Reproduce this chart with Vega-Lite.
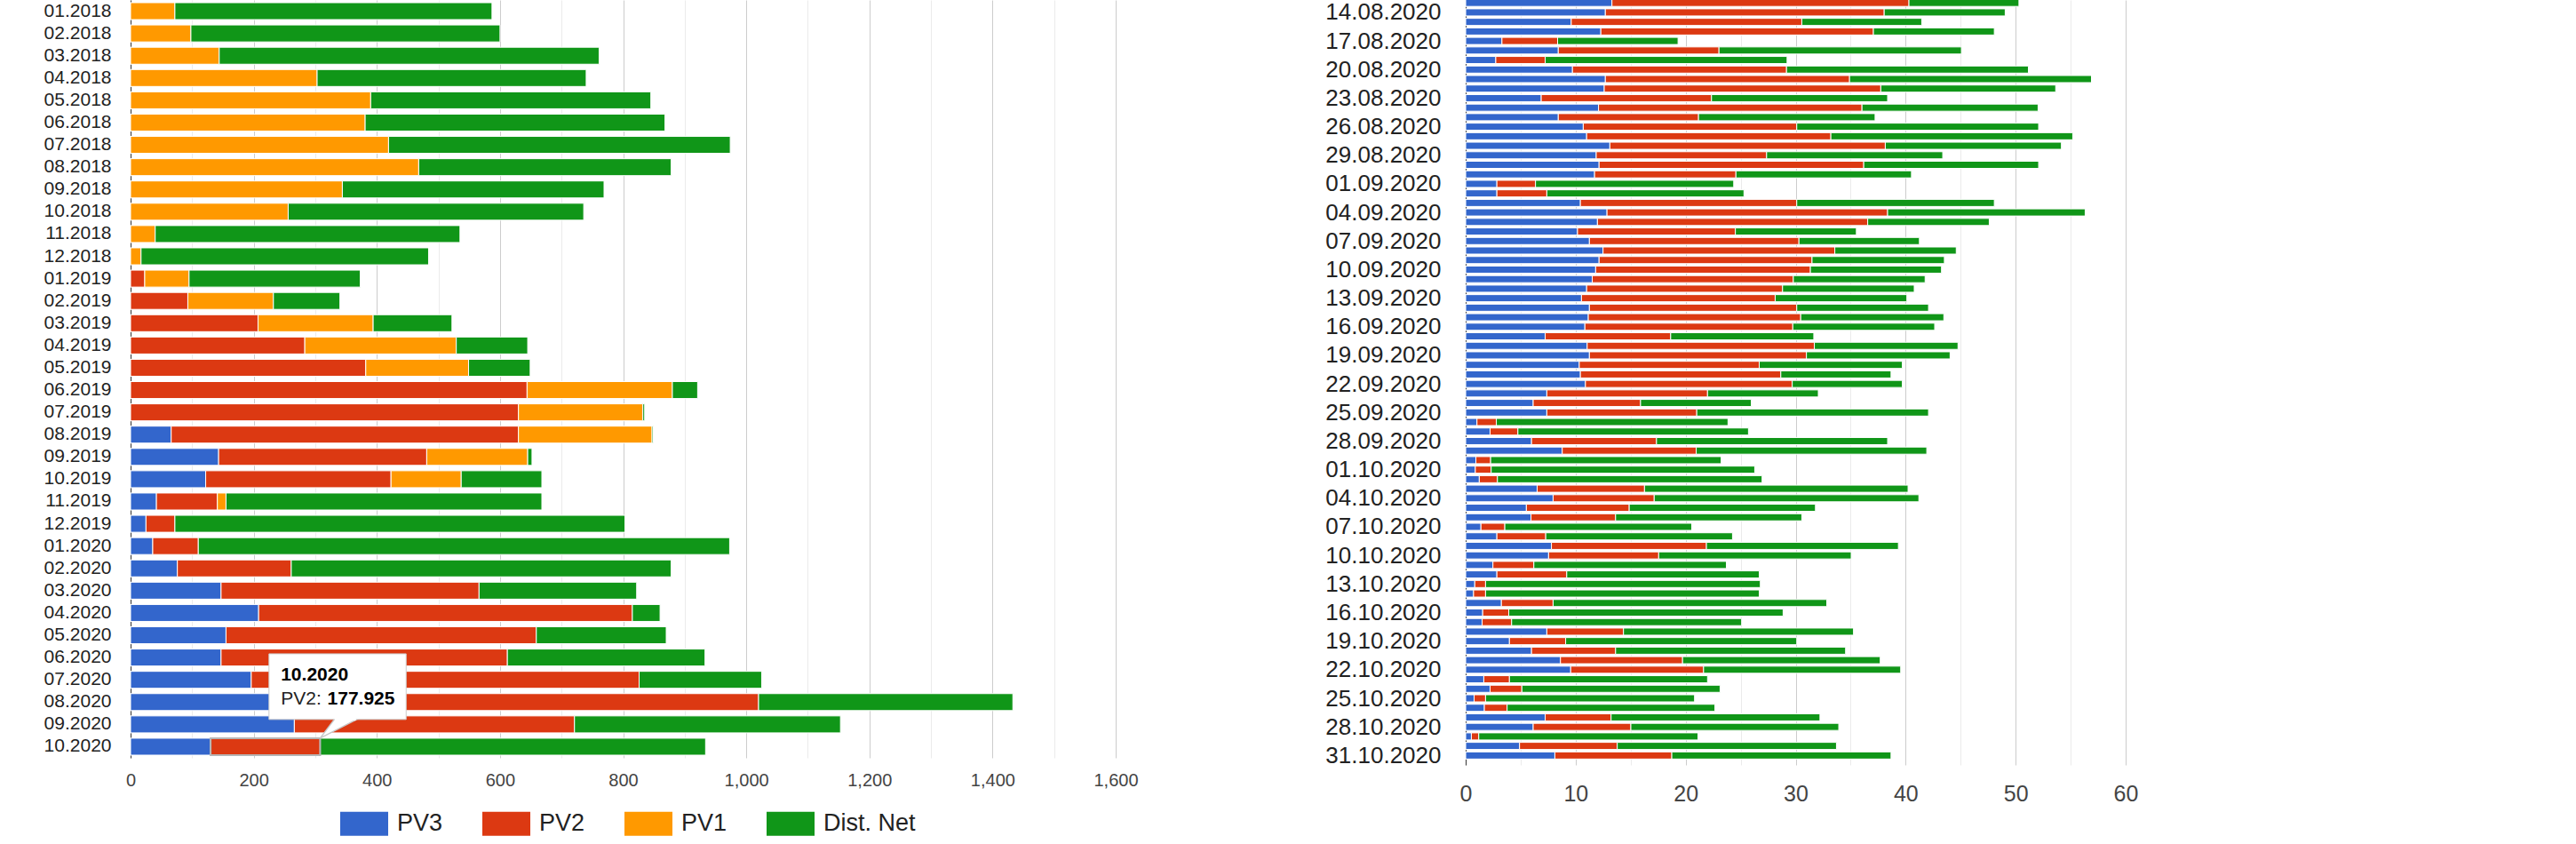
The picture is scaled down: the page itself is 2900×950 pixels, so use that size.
{
  "$schema": "https://vega.github.io/schema/vega-lite/v6.json",
  "background": "white",
  "padding": {"left": 49, "top": 0, "right": 0, "bottom": 0},
  "bounds": "flush",
  "spacing": 394,
  "config": {
    "font": "Liberation Sans",
    "view": {"stroke": null},
    "axis": {"ticks": false, "domain": false}
  },
  "resolve": {"scale": {"color": "independent"}, "legend": {"color": "independent"}},
  "hconcat": [
    {
      "width": 1109,
      "height": 853,
      "layer": [
        {
          "data": {
            "values": [
              {"m": "01.2018", "s": "PV1", "v": 72}, {"m": "01.2018", "s": "Dist. Net", "v": 515},
              {"m": "02.2018", "s": "PV1", "v": 98}, {"m": "02.2018", "s": "Dist. Net", "v": 502},
              {"m": "03.2018", "s": "PV1", "v": 144}, {"m": "03.2018", "s": "Dist. Net", "v": 617},
              {"m": "04.2018", "s": "PV1", "v": 303}, {"m": "04.2018", "s": "Dist. Net", "v": 437},
              {"m": "05.2018", "s": "PV1", "v": 390}, {"m": "05.2018", "s": "Dist. Net", "v": 455},
              {"m": "06.2018", "s": "PV1", "v": 381}, {"m": "06.2018", "s": "Dist. Net", "v": 487},
              {"m": "07.2018", "s": "PV1", "v": 419}, {"m": "07.2018", "s": "Dist. Net", "v": 555},
              {"m": "08.2018", "s": "PV1", "v": 468}, {"m": "08.2018", "s": "Dist. Net", "v": 410},
              {"m": "09.2018", "s": "PV1", "v": 344}, {"m": "09.2018", "s": "Dist. Net", "v": 425},
              {"m": "10.2018", "s": "PV1", "v": 256}, {"m": "10.2018", "s": "Dist. Net", "v": 480},
              {"m": "11.2018", "s": "PV1", "v": 40}, {"m": "11.2018", "s": "Dist. Net", "v": 495},
              {"m": "12.2018", "s": "PV1", "v": 17}, {"m": "12.2018", "s": "Dist. Net", "v": 467},
              {"m": "01.2019", "s": "PV2", "v": 23}, {"m": "01.2019", "s": "PV1", "v": 72}, {"m": "01.2019", "s": "Dist. Net", "v": 278},
              {"m": "02.2019", "s": "PV2", "v": 93}, {"m": "02.2019", "s": "PV1", "v": 139}, {"m": "02.2019", "s": "Dist. Net", "v": 108},
              {"m": "03.2019", "s": "PV2", "v": 207}, {"m": "03.2019", "s": "PV1", "v": 187}, {"m": "03.2019", "s": "Dist. Net", "v": 128},
              {"m": "04.2019", "s": "PV2", "v": 283}, {"m": "04.2019", "s": "PV1", "v": 246}, {"m": "04.2019", "s": "Dist. Net", "v": 116},
              {"m": "05.2019", "s": "PV2", "v": 382}, {"m": "05.2019", "s": "PV1", "v": 167}, {"m": "05.2019", "s": "Dist. Net", "v": 100},
              {"m": "06.2019", "s": "PV2", "v": 644}, {"m": "06.2019", "s": "PV1", "v": 236}, {"m": "06.2019", "s": "Dist. Net", "v": 41},
              {"m": "07.2019", "s": "PV2", "v": 630}, {"m": "07.2019", "s": "PV1", "v": 202}, {"m": "07.2019", "s": "Dist. Net", "v": 3},
              {"m": "08.2019", "s": "PV3", "v": 66}, {"m": "08.2019", "s": "PV2", "v": 564}, {"m": "08.2019", "s": "PV1", "v": 217}, {"m": "08.2019", "s": "Dist. Net", "v": 2},
              {"m": "09.2019", "s": "PV3", "v": 143}, {"m": "09.2019", "s": "PV2", "v": 338}, {"m": "09.2019", "s": "PV1", "v": 164}, {"m": "09.2019", "s": "Dist. Net", "v": 7},
              {"m": "10.2019", "s": "PV3", "v": 122}, {"m": "10.2019", "s": "PV2", "v": 301}, {"m": "10.2019", "s": "PV1", "v": 114}, {"m": "10.2019", "s": "Dist. Net", "v": 131},
              {"m": "11.2019", "s": "PV3", "v": 42}, {"m": "11.2019", "s": "PV2", "v": 99}, {"m": "11.2019", "s": "PV1", "v": 14}, {"m": "11.2019", "s": "Dist. Net", "v": 513},
              {"m": "12.2019", "s": "PV3", "v": 25}, {"m": "12.2019", "s": "PV2", "v": 47}, {"m": "12.2019", "s": "Dist. Net", "v": 731},
              {"m": "01.2020", "s": "PV3", "v": 36}, {"m": "01.2020", "s": "PV2", "v": 74}, {"m": "01.2020", "s": "Dist. Net", "v": 863},
              {"m": "02.2020", "s": "PV3", "v": 76}, {"m": "02.2020", "s": "PV2", "v": 185}, {"m": "02.2020", "s": "Dist. Net", "v": 617},
              {"m": "03.2020", "s": "PV3", "v": 147}, {"m": "03.2020", "s": "PV2", "v": 419}, {"m": "03.2020", "s": "Dist. Net", "v": 256},
              {"m": "04.2020", "s": "PV3", "v": 208}, {"m": "04.2020", "s": "PV2", "v": 607}, {"m": "04.2020", "s": "Dist. Net", "v": 45},
              {"m": "05.2020", "s": "PV3", "v": 155}, {"m": "05.2020", "s": "PV2", "v": 504}, {"m": "05.2020", "s": "Dist. Net", "v": 211},
              {"m": "06.2020", "s": "PV3", "v": 147}, {"m": "06.2020", "s": "PV2", "v": 465}, {"m": "06.2020", "s": "Dist. Net", "v": 321},
              {"m": "07.2020", "s": "PV3", "v": 196}, {"m": "07.2020", "s": "PV2", "v": 630}, {"m": "07.2020", "s": "Dist. Net", "v": 199},
              {"m": "08.2020", "s": "PV3", "v": 255}, {"m": "08.2020", "s": "PV2", "v": 765}, {"m": "08.2020", "s": "Dist. Net", "v": 413},
              {"m": "09.2020", "s": "PV3", "v": 266}, {"m": "09.2020", "s": "PV2", "v": 455}, {"m": "09.2020", "s": "Dist. Net", "v": 432},
              {"m": "10.2020", "s": "PV3", "v": 130}, {"m": "10.2020", "s": "PV2", "v": 177.925}, {"m": "10.2020", "s": "Dist. Net", "v": 626}
            ]
          },
          "mark": {"type": "bar", "stroke": "white", "strokeWidth": 1},
          "encoding": {
            "y": {
              "field": "m",
              "type": "nominal",
              "title": null,
              "scale": {
                "domain": ["01.2018", "02.2018", "03.2018", "04.2018", "05.2018", "06.2018", "07.2018", "08.2018", "09.2018", "10.2018", "11.2018", "12.2018",
                           "01.2019", "02.2019", "03.2019", "04.2019", "05.2019", "06.2019", "07.2019", "08.2019", "09.2019", "10.2019", "11.2019", "12.2019",
                           "01.2020", "02.2020", "03.2020", "04.2020", "05.2020", "06.2020", "07.2020", "08.2020", "09.2020", "10.2020"],
                "paddingInner": 0.24,
                "paddingOuter": 0.12
              },
              "axis": {"labelFontSize": 21, "labelColor": "#222222", "labelPadding": 22, "domain": true, "domainColor": "#333333", "grid": false}
            },
            "x": {
              "field": "v",
              "type": "quantitative",
              "stack": "zero",
              "title": null,
              "scale": {"domain": [0, 1600], "nice": false},
              "axis": {
                "values": [0, 100, 200, 300, 400, 500, 600, 700, 800, 900, 1000, 1100, 1200, 1300, 1400, 1500, 1600],
                "format": ",.0f",
                "labelExpr": "datum.value % 200 === 0 ? format(datum.value, ',.0f') : ''",
                "labelFontSize": 20,
                "labelColor": "#444444",
                "labelPadding": 15,
                "labelFlush": false,
                "gridColor": {"condition": {"test": "datum.value % 200 === 0", "value": "#cccccc"}, "value": "#ebebeb"}
              }
            },
            "color": {
              "field": "s",
              "type": "nominal",
              "scale": {"domain": ["PV3", "PV2", "PV1", "Dist. Net"], "range": ["#3366cc", "#dc3912", "#ff9900", "#109618"]},
              "legend": {
                "orient": "none",
                "legendX": 236,
                "legendY": 900,
                "direction": "horizontal",
                "title": null,
                "symbolType": "M-1,-0.5H1V0.5H-1Z",
                "symbolSize": 2916,
                "symbolStrokeWidth": 0,
                "symbolOpacity": 1,
                "labelFontSize": 27,
                "labelColor": "#222222",
                "labelOffset": 10,
                "columnPadding": 44
              }
            },
            "order": {"field": "s", "sort": "descending"}
          }
        },
        {
          "data": {"values": [{"m": "10.2020", "a": 130, "b": 307.925}]},
          "mark": {"type": "rect", "fillOpacity": 0, "stroke": "#b5b5b5", "strokeWidth": 2},
          "encoding": {
            "y": {"field": "m", "type": "nominal", "title": null},
            "x": {"field": "a", "type": "quantitative", "title": null},
            "x2": {"field": "b"}
          }
        },
        {
          "data": {
            "values": [
              {"m": "09.2020", "x": 335.2, "k": 1},
              {"m": "10.2020", "x": 307.9, "k": 2},
              {"m": "09.2020", "x": 378.3, "k": 3}
            ]
          },
          "mark": {"type": "line", "interpolate": "linear-closed", "fill": "white", "stroke": "white", "strokeWidth": 0},
          "encoding": {
            "y": {"field": "m", "type": "nominal", "bandPosition": 0, "title": null},
            "x": {"field": "x", "type": "quantitative", "title": null},
            "order": {"field": "k"}
          }
        },
        {
          "data": {
            "values": [
              {"m": "09.2020", "x": 335.2, "k": 1},
              {"m": "10.2020", "x": 307.9, "k": 2},
              {"m": "09.2020", "x": 378.3, "k": 3}
            ]
          },
          "mark": {"type": "line", "color": "#c8c8c8", "strokeWidth": 1.5},
          "encoding": {
            "y": {"field": "m", "type": "nominal", "bandPosition": 0, "title": null},
            "x": {"field": "x", "type": "quantitative", "title": null},
            "order": {"field": "k"}
          }
        },
        {
          "data": {"values": [{"m1": "06.2020", "m2": "09.2020", "a": 224.8, "b": 447.6}]},
          "mark": {"type": "rect", "fill": "white", "stroke": "#cccccc", "strokeWidth": 1},
          "encoding": {
            "y": {"field": "m1", "type": "nominal", "bandPosition": 0.28, "title": null},
            "y2": {"field": "m2", "bandPosition": 0.21},
            "x": {"field": "a", "type": "quantitative", "title": null},
            "x2": {"field": "b"}
          }
        },
        {
          "data": {"values": [{"m": "09.2020", "a": 331.5, "b": 366}]},
          "mark": {"type": "rule", "color": "white", "strokeWidth": 2.5},
          "encoding": {
            "y": {"field": "m", "type": "nominal", "bandPosition": 0.21, "title": null},
            "x": {"field": "a", "type": "quantitative", "title": null},
            "x2": {"field": "b"}
          }
        },
        {
          "data": {"values": [{"m": "07.2020", "x": 244.1, "t": "10.2020"}]},
          "mark": {"type": "text", "align": "left", "baseline": "middle", "fontSize": 21, "fontWeight": "bold", "color": "#000000"},
          "encoding": {
            "y": {"field": "m", "type": "nominal", "bandPosition": 0.23, "title": null},
            "x": {"field": "x", "type": "quantitative", "title": null},
            "text": {"field": "t"}
          }
        },
        {
          "data": {"values": [{"m": "08.2020", "x": 244.1, "t": "PV2:"}]},
          "mark": {"type": "text", "align": "left", "baseline": "middle", "fontSize": 21, "color": "#222222"},
          "encoding": {
            "y": {"field": "m", "type": "nominal", "bandPosition": 0.35, "title": null},
            "x": {"field": "x", "type": "quantitative", "title": null},
            "text": {"field": "t"}
          }
        },
        {
          "data": {"values": [{"m": "08.2020", "x": 319.6, "t": "177.925"}]},
          "mark": {"type": "text", "align": "left", "baseline": "middle", "fontSize": 21, "fontWeight": "bold", "color": "#000000"},
          "encoding": {
            "y": {"field": "m", "type": "nominal", "bandPosition": 0.35, "title": null},
            "x": {"field": "x", "type": "quantitative", "title": null},
            "text": {"field": "t"}
          }
        }
      ]
    },
    {
      "width": 743,
      "height": 861,
      "data": {
        "values": [
          {"d": "13.08.2020", "PV3": 13.3, "PV2": 27.0, "Net": 10.0},
          {"d": "14.08.2020", "PV3": 12.7, "PV2": 25.35, "Net": 11.0},
          {"d": "15.08.2020", "PV3": 9.6, "PV2": 20.96, "Net": 10.9},
          {"d": "16.08.2020", "PV3": 12.29, "PV2": 24.78, "Net": 10.99},
          {"d": "17.08.2020", "PV3": 3.3, "PV2": 5.06, "Net": 10.95},
          {"d": "18.08.2020", "PV3": 8.42, "PV2": 14.61, "Net": 22.04},
          {"d": "19.08.2020", "PV3": 2.74, "PV2": 4.49, "Net": 21.99},
          {"d": "20.08.2020", "PV3": 9.71, "PV2": 19.46, "Net": 21.99},
          {"d": "21.08.2020", "PV3": 12.7, "PV2": 22.2, "Net": 21.99},
          {"d": "22.08.2020", "PV3": 12.6, "PV2": 25.14, "Net": 15.9},
          {"d": "23.08.2020", "PV3": 6.87, "PV2": 15.48, "Net": 16.01},
          {"d": "24.08.2020", "PV3": 12.08, "PV2": 23.95, "Net": 16.01},
          {"d": "25.08.2020", "PV3": 8.42, "PV2": 12.75, "Net": 16.05},
          {"d": "26.08.2020", "PV3": 10.69, "PV2": 19.41, "Net": 21.99},
          {"d": "27.08.2020", "PV3": 11.0, "PV2": 22.2, "Net": 21.99},
          {"d": "28.08.2020", "PV3": 13.11, "PV2": 25.04, "Net": 16.01},
          {"d": "29.08.2020", "PV3": 11.87, "PV2": 15.49, "Net": 16.01},
          {"d": "30.08.2020", "PV3": 12.13, "PV2": 24.06, "Net": 15.9},
          {"d": "31.08.2020", "PV3": 11.72, "PV2": 12.85, "Net": 15.96},
          {"d": "01.09.2020", "PV3": 2.84, "PV2": 3.51, "Net": 18.02},
          {"d": "02.09.2020", "PV3": 2.84, "PV2": 4.54, "Net": 17.92},
          {"d": "03.09.2020", "PV3": 10.43, "PV2": 19.67, "Net": 17.96},
          {"d": "04.09.2020", "PV3": 12.85, "PV2": 25.51, "Net": 17.96},
          {"d": "05.09.2020", "PV3": 11.98, "PV2": 24.57, "Net": 11.05},
          {"d": "06.09.2020", "PV3": 10.17, "PV2": 14.35, "Net": 11.0},
          {"d": "07.09.2020", "PV3": 11.25, "PV2": 19.05, "Net": 10.95},
          {"d": "08.09.2020", "PV3": 12.49, "PV2": 21.07, "Net": 11.04},
          {"d": "09.09.2020", "PV3": 12.13, "PV2": 19.36, "Net": 12.03},
          {"d": "10.09.2020", "PV3": 11.82, "PV2": 19.52, "Net": 11.92},
          {"d": "11.09.2020", "PV3": 11.51, "PV2": 18.28, "Net": 11.98},
          {"d": "12.09.2020", "PV3": 11.0, "PV2": 17.81, "Net": 11.97},
          {"d": "13.09.2020", "PV3": 10.53, "PV2": 17.61, "Net": 11.97},
          {"d": "14.09.2020", "PV3": 11.25, "PV2": 18.85, "Net": 11.98},
          {"d": "15.09.2020", "PV3": 11.15, "PV2": 19.31, "Net": 13.01},
          {"d": "16.09.2020", "PV3": 10.84, "PV2": 18.9, "Net": 12.9},
          {"d": "17.09.2020", "PV3": 7.23, "PV2": 11.41, "Net": 13.01},
          {"d": "18.09.2020", "PV3": 11.05, "PV2": 20.65, "Net": 13.06},
          {"d": "19.09.2020", "PV3": 11.25, "PV2": 19.73, "Net": 13.06},
          {"d": "20.09.2020", "PV3": 10.33, "PV2": 16.36, "Net": 13.01},
          {"d": "21.09.2020", "PV3": 10.43, "PV2": 18.22, "Net": 10.02},
          {"d": "22.09.2020", "PV3": 10.89, "PV2": 18.8, "Net": 10.01},
          {"d": "23.09.2020", "PV3": 7.38, "PV2": 14.61, "Net": 10.07},
          {"d": "24.09.2020", "PV3": 6.14, "PV2": 9.76, "Net": 10.07},
          {"d": "25.09.2020", "PV3": 7.38, "PV2": 13.63, "Net": 21.07},
          {"d": "26.09.2020", "PV3": 1.03, "PV2": 1.76, "Net": 21.06},
          {"d": "27.09.2020", "PV3": 2.22, "PV2": 2.53, "Net": 20.96},
          {"d": "28.09.2020", "PV3": 5.99, "PV2": 11.36, "Net": 21.01},
          {"d": "29.09.2020", "PV3": 8.78, "PV2": 12.18, "Net": 20.96},
          {"d": "30.09.2020", "PV3": 0.93, "PV2": 1.34, "Net": 20.96},
          {"d": "01.10.2020", "PV3": 0.88, "PV2": 1.44, "Net": 23.96},
          {"d": "02.10.2020", "PV3": 1.24, "PV2": 1.65, "Net": 24.06},
          {"d": "03.10.2020", "PV3": 6.5, "PV2": 9.76, "Net": 23.96},
          {"d": "04.10.2020", "PV3": 7.95, "PV2": 9.19, "Net": 24.06},
          {"d": "05.10.2020", "PV3": 5.52, "PV2": 9.35, "Net": 16.93},
          {"d": "06.10.2020", "PV3": 5.94, "PV2": 7.69, "Net": 16.93},
          {"d": "07.10.2020", "PV3": 1.39, "PV2": 2.17, "Net": 16.99},
          {"d": "08.10.2020", "PV3": 2.84, "PV2": 4.44, "Net": 16.98},
          {"d": "09.10.2020", "PV3": 7.8, "PV2": 14.09, "Net": 17.45},
          {"d": "10.10.2020", "PV3": 7.54, "PV2": 10.01, "Net": 17.5},
          {"d": "11.10.2020", "PV3": 2.48, "PV2": 3.72, "Net": 17.5},
          {"d": "12.10.2020", "PV3": 2.84, "PV2": 6.35, "Net": 17.5},
          {"d": "13.10.2020", "PV3": 0.83, "PV2": 0.98, "Net": 24.98},
          {"d": "14.10.2020", "PV3": 0.72, "PV2": 1.09, "Net": 24.88},
          {"d": "15.10.2020", "PV3": 3.25, "PV2": 4.7, "Net": 24.88},
          {"d": "16.10.2020", "PV3": 1.55, "PV2": 2.37, "Net": 24.94},
          {"d": "17.10.2020", "PV3": 1.5, "PV2": 2.68, "Net": 20.91},
          {"d": "18.10.2020", "PV3": 7.38, "PV2": 6.97, "Net": 20.91},
          {"d": "19.10.2020", "PV3": 3.98, "PV2": 5.11, "Net": 21.01},
          {"d": "20.10.2020", "PV3": 5.99, "PV2": 7.64, "Net": 20.91},
          {"d": "21.10.2020", "PV3": 8.62, "PV2": 11.1, "Net": 17.97},
          {"d": "22.10.2020", "PV3": 9.55, "PV2": 12.08, "Net": 17.92},
          {"d": "23.10.2020", "PV3": 1.65, "PV2": 2.33, "Net": 18.01},
          {"d": "24.10.2020", "PV3": 2.22, "PV2": 2.89, "Net": 18.02},
          {"d": "25.10.2020", "PV3": 0.77, "PV2": 1.04, "Net": 19.0},
          {"d": "26.10.2020", "PV3": 1.7, "PV2": 2.07, "Net": 18.89},
          {"d": "27.10.2020", "PV3": 7.23, "PV2": 5.99, "Net": 18.99},
          {"d": "28.10.2020", "PV3": 6.14, "PV2": 8.88, "Net": 18.9},
          {"d": "29.10.2020", "PV3": 0.52, "PV2": 0.67, "Net": 19.93},
          {"d": "30.10.2020", "PV3": 4.9, "PV2": 8.88, "Net": 19.93},
          {"d": "31.10.2020", "PV3": 8.11, "PV2": 10.63, "Net": 19.93}
        ],
        "format": {"parse": {"d": "utc:'%d.%m.%Y'"}}
      },
      "transform": [{"fold": ["PV3", "PV2", "Net"], "as": ["s", "v"]}],
      "mark": {"type": "bar", "size": 8, "clip": true, "stroke": "white", "strokeWidth": 1},
      "encoding": {
        "y": {
          "field": "d",
          "type": "temporal",
          "title": null,
          "scale": {
            "type": "utc",
            "nice": false,
            "reverse": true,
            "domain": [
              {"year": 2020, "month": 8, "date": 13, "hours": 4, "utc": true},
              {"year": 2020, "month": 10, "date": 31, "hours": 12, "minutes": 40, "utc": true}
            ]
          },
          "axis": {
            "values": [
              {"year": 2020, "month": 8, "date": 14, "utc": true},
              {"year": 2020, "month": 8, "date": 17, "utc": true},
              {"year": 2020, "month": 8, "date": 20, "utc": true},
              {"year": 2020, "month": 8, "date": 23, "utc": true},
              {"year": 2020, "month": 8, "date": 26, "utc": true},
              {"year": 2020, "month": 8, "date": 29, "utc": true},
              {"year": 2020, "month": 9, "date": 1, "utc": true},
              {"year": 2020, "month": 9, "date": 4, "utc": true},
              {"year": 2020, "month": 9, "date": 7, "utc": true},
              {"year": 2020, "month": 9, "date": 10, "utc": true},
              {"year": 2020, "month": 9, "date": 13, "utc": true},
              {"year": 2020, "month": 9, "date": 16, "utc": true},
              {"year": 2020, "month": 9, "date": 19, "utc": true},
              {"year": 2020, "month": 9, "date": 22, "utc": true},
              {"year": 2020, "month": 9, "date": 25, "utc": true},
              {"year": 2020, "month": 9, "date": 28, "utc": true},
              {"year": 2020, "month": 10, "date": 1, "utc": true},
              {"year": 2020, "month": 10, "date": 4, "utc": true},
              {"year": 2020, "month": 10, "date": 7, "utc": true},
              {"year": 2020, "month": 10, "date": 10, "utc": true},
              {"year": 2020, "month": 10, "date": 13, "utc": true},
              {"year": 2020, "month": 10, "date": 16, "utc": true},
              {"year": 2020, "month": 10, "date": 19, "utc": true},
              {"year": 2020, "month": 10, "date": 22, "utc": true},
              {"year": 2020, "month": 10, "date": 25, "utc": true},
              {"year": 2020, "month": 10, "date": 28, "utc": true},
              {"year": 2020, "month": 10, "date": 31, "utc": true}
            ],
            "labelExpr": "utcFormat(datum.value, '%d.%m.%Y')",
            "labelFontSize": 26,
            "labelColor": "#222222",
            "labelPadding": 28,
            "labelOverlap": false,
            "domain": true,
            "domainColor": "#333333",
            "grid": false
          }
        },
        "x": {
          "field": "v",
          "type": "quantitative",
          "stack": "zero",
          "title": null,
          "scale": {"domain": [0, 60], "nice": false},
          "axis": {
            "values": [0, 5, 10, 15, 20, 25, 30, 35, 40, 45, 50, 55, 60],
            "labelExpr": "datum.value % 10 === 0 ? datum.label : ''",
            "labelFontSize": 25,
            "labelColor": "#444444",
            "labelPadding": 20,
            "labelFlush": false,
            "gridColor": {"condition": {"test": "datum.value % 10 === 0", "value": "#cccccc"}, "value": "#ebebeb"}
          }
        },
        "color": {
          "field": "s",
          "type": "nominal",
          "scale": {"domain": ["PV3", "PV2", "PV1", "Net"], "range": ["#3366cc", "#dc3912", "#ff9900", "#109618"]},
          "legend": null
        },
        "order": {"field": "s", "sort": "descending"}
      }
    }
  ]
}
